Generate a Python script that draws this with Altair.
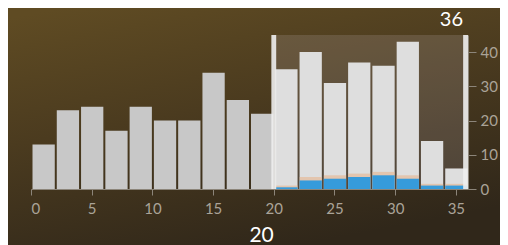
import altair as alt
import pandas as pd

# ---- data ----
bin_starts = [0, 2, 4, 6, 8, 10, 12, 14, 16, 18, 20, 22, 24, 26, 28, 30, 32, 34]
counts = [13, 23, 24, 17, 24, 20, 20, 34, 26, 22, 35, 40, 31, 37, 36, 43, 14, 6]
sub_blue = [0, 0, 0, 0, 0, 0, 0, 0, 0, 0, 0.5, 2.5, 3, 3.5, 4, 3, 1, 1]
sub_orange = [0, 0, 0, 0, 0, 0, 0, 0, 0, 0, 0.5, 1, 1, 1, 1, 1, 0.5, 0.5]
sel_lo, sel_hi = 20, 36
x_ticks = [0, 5, 10, 15, 20, 25, 30, 35]
y_ticks = [0, 10, 20, 30, 40]

df = pd.DataFrame({
    "start": bin_starts,
    "end": [b + 2 for b in bin_starts],
    "count": counts,
    "blue": sub_blue,
    "orange": [b + o for b, o in zip(sub_blue, sub_orange)],
})
df["sel"] = df["start"] >= sel_lo

W, H = 437, 154
FONT = "Lato"
LABEL = "#aaa398"
AX = "#8c857a"

xs = alt.Scale(domain=[0, 36], nice=False, zero=False)
ys = alt.Scale(domain=[0, 45], nice=False)
xaxis = alt.Axis(values=x_ticks, grid=False, tickSize=6, labelPadding=6, title=None,
                 domainColor=AX, tickColor=AX, labelColor=LABEL, zindex=1,
                 labelFontSize=15, labelFont=FONT)
yaxis = alt.Axis(orient="right", values=y_ticks, grid=False, tickSize=8, title=None,
                 labelPadding=4, domainColor=AX, tickColor=AX, labelColor=LABEL,
                 zindex=1, labelFontSize=15, labelFont=FONT)

bg = alt.Chart(pd.DataFrame({"a": [0]})).mark_rect(
    color={
        "gradient": "linear",
        "x1": 0.15, "y1": 0, "x2": 0.55, "y2": 1,
        "stops": [
            {"offset": 0, "color": "#5f4b23"},
            {"offset": 0.45, "color": "#4b3b1f"},
            {"offset": 1, "color": "#30271a"},
        ],
    }
).encode(
    x=alt.value(-30), x2=alt.value(W + 40),
    y=alt.value(-30), y2=alt.value(H + 60),
)

sel_df = pd.DataFrame({"lo": [sel_lo], "hi": [sel_hi], "top": [45], "bot": [0]})
overlay = alt.Chart(sel_df).mark_rect(color="#d8d0d8", opacity=0.16).encode(
    x=alt.X("lo:Q", scale=xs, axis=xaxis), x2="hi:Q",
    y=alt.Y("top:Q", scale=ys, axis=yaxis), y2="bot:Q",
)

bars = alt.Chart(df).mark_bar(binSpacing=2).encode(
    x=alt.X("start:Q", bin="binned", scale=xs, axis=xaxis),
    x2="end:Q",
    y=alt.Y("count:Q", scale=ys, axis=yaxis),
    color=alt.condition("datum.sel", alt.value("#dedede"), alt.value("#c8c8c8")),
)

orange = alt.Chart(df).transform_filter("datum.sel").mark_bar(
    binSpacing=2, color="#e6b48e", opacity=0.6
).encode(
    x=alt.X("start:Q", bin="binned", scale=xs, axis=xaxis), x2="end:Q",
    y=alt.Y("orange:Q", scale=ys, axis=yaxis),
)

blue = alt.Chart(df).transform_filter("datum.sel").mark_bar(
    binSpacing=2, color="#2296e0", opacity=0.9
).encode(
    x=alt.X("start:Q", bin="binned", scale=xs, axis=xaxis), x2="end:Q",
    y=alt.Y("blue:Q", scale=ys, axis=yaxis),
)

handles_df = pd.DataFrame({"a": [19.8, 35.6], "b": [20.2, 36.0], "top": [45, 45], "bot": [0, 0]})
handles = alt.Chart(handles_df).mark_rect(color="#eeeeee", opacity=0.9).encode(
    x=alt.X("a:Q", scale=xs, axis=xaxis), x2="b:Q",
    y=alt.Y("top:Q", scale=ys, axis=yaxis), y2="bot:Q",
)

lab_df = pd.DataFrame({"v": [sel_lo, sel_hi], "t": [str(sel_lo), str(sel_hi)]})
lab_lo = alt.Chart(lab_df.iloc[[0]]).mark_text(
    align="right", baseline="alphabetic", font=FONT, fontSize=21, color="#ffffff"
).encode(x=alt.X("v:Q", scale=xs, axis=xaxis), y=alt.value(H + 53), text="t:N")
lab_hi = alt.Chart(lab_df.iloc[[1]]).mark_text(
    align="right", baseline="alphabetic", font=FONT, fontSize=20, color="#ffffff", dx=-5
).encode(x=alt.X("v:Q", scale=xs, axis=xaxis), y=alt.value(-9), text="t:N")

chart = alt.layer(bg, overlay, bars, orange, blue, handles, lab_lo, lab_hi).properties(
    width=W, height=H,
    autosize=alt.AutoSizeParams(type="none"),
    padding={"left": 23, "top": 27, "right": 32, "bottom": 56},
    background="#30271a",
).configure_view(strokeWidth=0)

chart.save("out.html", embed_options={"renderer": "svg", "actions": False})
